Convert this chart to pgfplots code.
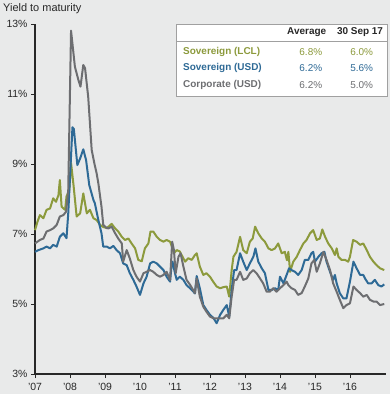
\documentclass[border=0pt]{standalone}
\usepackage{pgfplots}
\pgfplotsset{compat=1.18}
\usepackage{pgfplotstable}
\usepackage{fontspec}
\setmainfont{Liberation Sans}
\definecolor{bgc}{RGB}{233,234,234}
\definecolor{gold}{RGB}{140,154,60}
\definecolor{blueS}{RGB}{46,106,150}
\definecolor{grayC}{RGB}{109,110,113}
\definecolor{axc}{RGB}{40,40,40}
\definecolor{boxc}{RGB}{160,160,160}

\pgfplotstableread{
x y
2007.00 7.11
2007.07 7.35
2007.14 7.54
2007.24 7.45
2007.33 7.69
2007.43 7.73
2007.52 8.02
2007.60 7.92
2007.67 8.11
2007.71 8.54
2007.76 7.78
2007.86 7.69
2007.90 8.07
2007.98 8.26
2008.03 9.03
2008.10 8.40
2008.19 7.50
2008.29 7.59
2008.38 8.16
2008.48 7.59
2008.57 7.69
2008.67 7.45
2008.76 7.40
2008.86 7.26
2008.95 7.20
2009.05 7.17
2009.10 7.21
2009.19 7.29
2009.29 7.16
2009.38 7.07
2009.48 6.92
2009.57 6.83
2009.67 6.87
2009.76 6.73
2009.86 6.59
2009.95 6.26
2010.05 6.22
2010.14 6.59
2010.24 6.73
2010.30 7.07
2010.38 7.07
2010.48 6.92
2010.57 6.83
2010.67 6.78
2010.76 6.83
2010.86 6.78
2010.93 6.59
2010.97 6.45
2011.05 6.54
2011.14 6.50
2011.19 6.40
2011.29 6.21
2011.38 6.31
2011.48 6.26
2011.57 6.40
2011.62 6.45
2011.71 6.07
2011.81 5.83
2011.90 5.88
2012.00 5.78
2012.09 5.64
2012.19 5.50
2012.29 5.45
2012.38 5.48
2012.48 5.50
2012.55 5.21
2012.62 5.97
2012.67 6.35
2012.76 6.49
2012.86 6.92
2012.95 6.54
2013.05 6.45
2013.14 6.78
2013.22 6.87
2013.29 7.21
2013.38 7.02
2013.48 6.87
2013.57 6.78
2013.67 6.59
2013.76 6.54
2013.86 6.59
2013.95 6.73
2014.05 6.45
2014.14 6.49
2014.20 6.25
2014.24 6.49
2014.29 5.92
2014.38 6.21
2014.48 6.35
2014.57 6.54
2014.67 6.73
2014.76 6.83
2014.86 7.02
2014.95 7.11
2015.05 6.83
2015.14 6.87
2015.21 7.13
2015.29 6.92
2015.38 6.73
2015.48 6.59
2015.57 6.40
2015.62 6.59
2015.67 6.35
2015.76 6.26
2015.86 6.26
2015.95 6.21
2016.00 6.35
2016.09 6.83
2016.19 6.78
2016.29 6.69
2016.38 6.73
2016.48 6.54
2016.57 6.35
2016.67 6.21
2016.76 6.11
2016.86 6.02
2016.98 5.97
}\goldtab

\pgfplotstableread{
x y
2007.00 6.49
2007.10 6.54
2007.24 6.59
2007.33 6.64
2007.43 6.59
2007.52 6.69
2007.62 6.64
2007.71 6.92
2007.81 7.02
2007.90 6.88
2007.95 7.59
2008.07 10.05
2008.11 10.00
2008.21 8.97
2008.29 9.16
2008.38 9.42
2008.46 9.11
2008.55 8.40
2008.67 7.97
2008.71 7.88
2008.81 7.40
2008.90 7.02
2008.95 6.64
2009.05 6.64
2009.14 6.59
2009.24 6.66
2009.33 6.54
2009.43 6.45
2009.52 6.16
2009.62 6.11
2009.71 5.88
2009.81 5.69
2009.90 5.50
2010.00 5.26
2010.10 5.59
2010.19 5.78
2010.29 6.16
2010.38 6.21
2010.48 6.16
2010.57 6.07
2010.67 5.97
2010.76 5.78
2010.86 5.64
2010.90 6.07
2010.93 6.21
2011.00 5.88
2011.05 5.69
2011.14 5.78
2011.24 5.69
2011.33 5.54
2011.43 5.45
2011.52 5.36
2011.57 5.30
2011.62 5.80
2011.71 5.45
2011.81 4.97
2011.90 4.83
2012.00 4.69
2012.10 4.60
2012.19 4.45
2012.29 4.69
2012.38 4.83
2012.48 4.97
2012.55 4.64
2012.62 5.40
2012.69 5.97
2012.76 5.97
2012.86 6.45
2012.95 6.21
2013.05 5.97
2013.14 6.16
2013.24 6.35
2013.30 6.59
2013.38 6.21
2013.48 6.02
2013.57 5.88
2013.67 5.40
2013.76 5.40
2013.86 5.45
2013.95 5.40
2014.00 5.78
2014.10 5.59
2014.19 5.83
2014.26 6.02
2014.33 5.97
2014.43 5.92
2014.52 5.83
2014.62 5.97
2014.71 6.26
2014.81 6.26
2014.90 6.45
2014.95 6.49
2015.00 6.21
2015.10 6.35
2015.19 6.45
2015.27 6.49
2015.33 6.21
2015.43 5.92
2015.52 5.69
2015.57 5.83
2015.62 5.59
2015.71 5.31
2015.81 5.16
2015.90 5.16
2016.00 5.64
2016.10 6.21
2016.19 6.02
2016.29 5.83
2016.38 5.83
2016.43 5.73
2016.52 5.59
2016.62 5.59
2016.71 5.69
2016.81 5.54
2016.90 5.50
2016.98 5.56
}\bluetab

\pgfplotstableread{
x y
2007.00 6.73
2007.14 6.83
2007.24 6.87
2007.33 7.07
2007.43 7.11
2007.52 7.16
2007.62 7.26
2007.71 7.50
2007.81 7.54
2007.89 7.64
2007.95 8.26
2008.03 12.81
2008.14 11.78
2008.24 11.40
2008.30 11.21
2008.38 11.83
2008.43 11.74
2008.52 10.92
2008.62 9.40
2008.70 9.00
2008.76 8.74
2008.81 8.45
2008.90 7.78
2008.95 7.26
2009.05 7.17
2009.10 7.16
2009.19 7.21
2009.29 7.02
2009.38 6.87
2009.48 6.73
2009.52 6.21
2009.62 6.54
2009.71 6.30
2009.81 5.97
2009.90 5.78
2010.00 5.64
2010.10 5.88
2010.19 5.92
2010.29 5.97
2010.38 5.92
2010.48 5.83
2010.57 5.78
2010.67 5.83
2010.76 5.92
2010.86 5.69
2010.92 6.78
2010.97 6.54
2011.02 5.88
2011.10 6.35
2011.16 6.45
2011.24 6.07
2011.33 5.69
2011.43 5.55
2011.52 5.40
2011.57 5.31
2011.62 5.73
2011.71 5.21
2011.81 4.92
2011.90 4.78
2012.00 4.64
2012.10 4.59
2012.19 4.59
2012.29 4.59
2012.38 4.59
2012.48 4.69
2012.55 4.59
2012.62 5.21
2012.69 5.69
2012.76 5.69
2012.86 5.92
2012.95 5.69
2013.05 5.73
2013.14 5.88
2013.24 5.97
2013.33 5.88
2013.43 5.73
2013.52 5.59
2013.62 5.35
2013.71 5.35
2013.81 5.45
2013.90 5.35
2014.00 5.45
2014.10 5.54
2014.19 5.64
2014.24 5.54
2014.33 5.45
2014.43 5.40
2014.52 5.26
2014.62 5.31
2014.71 5.50
2014.81 5.73
2014.90 6.16
2014.98 6.26
2015.05 5.92
2015.14 6.16
2015.24 6.49
2015.33 6.26
2015.43 5.97
2015.52 5.59
2015.62 5.35
2015.71 5.12
2015.81 4.88
2015.90 4.97
2016.00 5.02
2016.10 5.50
2016.19 5.40
2016.29 5.31
2016.38 5.21
2016.48 5.26
2016.57 5.12
2016.67 5.07
2016.76 5.07
2016.86 4.97
2016.98 5.00
}\graytab

\begin{document}
\begin{tikzpicture}
\fill[bgc] (0,0) rectangle (390bp,394bp);
\begin{axis}[
  at={(35bp,20bp)}, anchor=south west,
  scale only axis, width=351bp, height=350bp,
  xmin=2007, xmax=2017.03, ymin=3, ymax=13,
  axis x line*=bottom, axis y line*=left,
  axis line style={-, line width=1.6bp, draw=axc},
  tick style={line width=0.8bp, draw=axc},
  tick align=outside, major tick length=4bp,
  ytick={3,5,7,9,11,13},
  yticklabels={3\%,5\%,7\%,9\%,11\%,13\%},
  xtick={2007,2008,...,2016},
  xticklabels={'07,'08,'09,'10,'11,'12,'13,'14,'15,'16},
  ticklabel style={font=\fontsize{10.5}{12}\selectfont, text=axc},
  xticklabel style={yshift=-1.5bp},
  clip=false,
]
\addplot[gold, line width=2bp, line join=round] table[x=x,y=y] {\goldtab};
\addplot[blueS, line width=2bp, line join=round] table[x=x,y=y] {\bluetab};
\addplot[grayC, line width=2bp, line join=round] table[x=x,y=y] {\graytab};
\end{axis}
\node[anchor=west, inner sep=0, font=\fontsize{11}{13}\selectfont, text=axc] at (3bp,385.5bp) {Yield to maturity};
\draw[boxc, fill=white, line width=0.8bp] (176.5bp,298bp) rectangle (387.5bp,370bp);
\draw[boxc, line width=0.8bp] (176.5bp,353bp) -- (387.5bp,353bp);
\begin{scope}[every node/.style={inner sep=0, font=\fontsize{10}{12}\selectfont}]
\node[text=axc, font=\fontsize{10}{12}\selectfont\bfseries] at (306.7bp,361.5bp) {Average};
\node[text=axc, font=\fontsize{10}{12}\selectfont\bfseries] at (360bp,361.5bp) {30 Sep 17};
\node[anchor=west, text=gold, font=\fontsize{10}{12}\selectfont\bfseries] at (183bp,342.3bp) {Sovereign (LCL)};
\node[anchor=west, text=blueS, font=\fontsize{10}{12}\selectfont\bfseries] at (183bp,325.7bp) {Sovereign (USD)};
\node[anchor=west, text=grayC, font=\fontsize{10}{12}\selectfont\bfseries] at (183bp,309bp) {Corporate (USD)};
\node[text=gold] at (310.8bp,342.3bp) {6.8\%};
\node[text=gold] at (361.7bp,342.3bp) {6.0\%};
\node[text=blueS] at (310.8bp,325.7bp) {6.2\%};
\node[text=blueS] at (361.7bp,325.7bp) {5.6\%};
\node[text=grayC] at (310.8bp,309bp) {6.2\%};
\node[text=grayC] at (361.7bp,309bp) {5.0\%};
\end{scope}
\pgfresetboundingbox
\path (0,0) rectangle (390bp,394bp);
\end{tikzpicture}
\end{document}
